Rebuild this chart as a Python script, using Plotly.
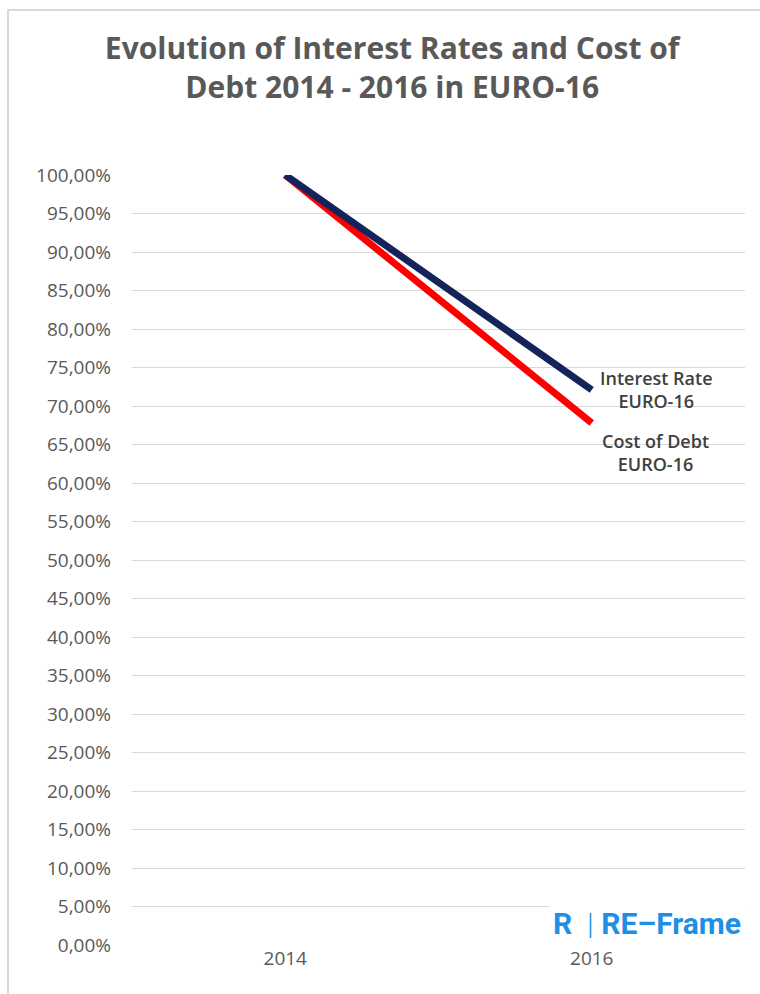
import plotly.graph_objects as go

years = ["2014", "2016"]
interest_rate = [1.00, 0.721]
cost_of_debt = [1.00, 0.678]
series_names = ["Interest Rate<br>EURO-16", "Cost of Debt<br>EURO-16"]
y_ticks = [i * 0.05 for i in range(21)]

fig = go.Figure()
fig.add_trace(go.Scatter(x=years, y=cost_of_debt, mode="lines",
                         line=dict(color="#FF0000", width=7), name="Cost of Debt"))
fig.add_trace(go.Scatter(x=years, y=interest_rate, mode="lines",
                         line=dict(color="#14245A", width=7), name="Interest Rate"))

last = len(years) - 1
label_font = dict(family="Open Sans", size=18, color="#404040", weight=600)
fig.add_annotation(xref="x", yref="y", x=last, y=interest_rate[-1], text=series_names[0],
                   showarrow=False, xanchor="left", yanchor="middle", xshift=6, yshift=0,
                   font=label_font)
fig.add_annotation(xref="x", yref="y", x=last, y=cost_of_debt[-1], text=series_names[1],
                   showarrow=False, xanchor="left", yanchor="top", xshift=8, yshift=-4,
                   font=label_font)

# logo
fig.add_annotation(xref="paper", yref="paper", x=1.0, y=0.0, xanchor="right", yanchor="bottom",
                   text="<b>R</b>  <span style='font-weight:300'>|</span> <b>RE–Frame</b>",
                   showarrow=False, bgcolor="white", borderpad=3,
                   font=dict(family="Roboto", size=30, color="#1E8FE6"))

fig.update_layout(
    width=760, height=994,
    margin=dict(l=132, r=15, t=175, b=49),
    paper_bgcolor="white", plot_bgcolor="white",
    showlegend=False,
    separators=",.",
    title=dict(text="<b>Evolution of Interest Rates and Cost of<br>Debt 2014 - 2016 in EURO-16</b>",
               x=0.516, xanchor="center", y=0.941, yanchor="top",
               font=dict(family="Open Sans", size=30, color="#595959")),
    xaxis=dict(type="category", range=[-0.5, 1.5], showgrid=False, showline=False,
               ticks="", tickfont=dict(family="Open Sans", size=19, color="#595959")),
    yaxis=dict(range=[0, 1.0], tickvals=y_ticks, tickformat=".2%", showgrid=True,
               gridcolor="#D9D9D9", gridwidth=1.3, zeroline=False, showline=False,
               ticks="", ticklabelstandoff=20,
               tickfont=dict(family="Open Sans", size=19, color="#595959")),
)
fig.add_shape(type="rect", xref="paper", yref="paper",
              x0=-124/613, x1=1.1, y0=-0.2, y1=1 + 165/770,
              line=dict(color="#D9D9D9", width=2), fillcolor="rgba(0,0,0,0)", layer="below")

fig.write_html("out.html")
